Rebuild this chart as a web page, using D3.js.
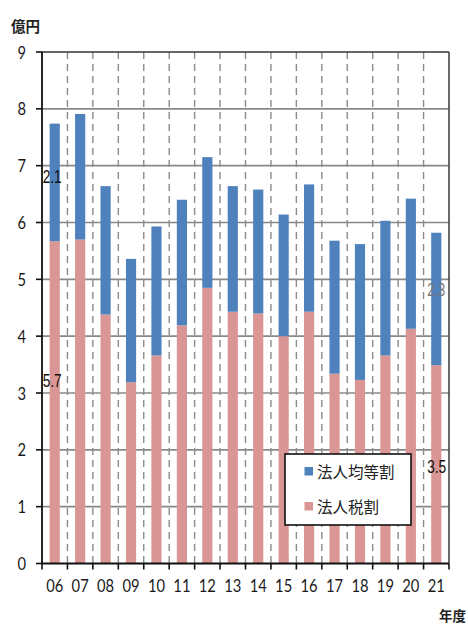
<!DOCTYPE html>
<html><head><meta charset="utf-8">
<script src="https://cdn.jsdelivr.net/npm/d3@7"></script>
<style>
html,body{margin:0;padding:0;background:#fff;}
svg{display:block;}
</style></head>
<body>
<script>
// ---- data ----
const years = ["06","07","08","09","10","11","12","13","14","15","16","17","18","19","20","21"];
const houjinzeiwari = [5.67,5.70,4.38,3.19,3.66,4.19,4.85,4.43,4.40,4.00,4.43,3.34,3.23,3.66,4.13,3.49]; // 法人税割
const kintouwari   = [2.07,2.21,2.26,2.17,2.27,2.21,2.30,2.21,2.18,2.14,2.24,2.34,2.39,2.37,2.29,2.33]; // 法人均等割
const yTicks = [0,1,2,3,4,5,6,7,8,9];
const seriesNames = ["法人均等割","法人税割"];
const seriesColors = ["#4F81BD","#D99694"];

// ---- layout ----
const W = 468, H = 625;
const L = 42, R = 449, T = 52, B = 563.5;

const svg = d3.select("body").append("svg").attr("width", W).attr("height", H);

const x = d3.scaleBand().domain(years).range([L, R]).paddingInner(0.6).paddingOuter(0.3);
const y = d3.scaleLinear().domain([0, 9]).range([B, T]);
const step = x.step();
const boundary = i => L + i * step;

// horizontal gridlines
svg.append("g").selectAll("line").data(yTicks.filter(d => d > 0 && d < 9)).join("line")
  .attr("x1", L).attr("x2", R).attr("y1", d => y(d)).attr("y2", d => y(d))
  .attr("stroke", "#888").attr("stroke-width", 1.7);

// dashed vertical lines
svg.append("g").selectAll("line").data(d3.range(1, years.length)).join("line")
  .attr("x1", d => boundary(d)).attr("x2", d => boundary(d)).attr("y1", T).attr("y2", B)
  .attr("stroke", "#8c8c8c").attr("stroke-width", 1.4).attr("stroke-dasharray", "7,5");

// stacked bars
const rows = years.map((yr, i) => ({ yr, a: houjinzeiwari[i], b: kintouwari[i] }));
const stack = d3.stack().keys(["a", "b"])(rows);
const colorByKey = { a: seriesColors[1], b: seriesColors[0] };
svg.append("g").selectAll("g").data(stack).join("g")
  .attr("fill", s => colorByKey[s.key])
  .selectAll("rect").data(s => s).join("rect")
  .attr("x", d => x(d.data.yr)).attr("width", x.bandwidth())
  .attr("y", d => y(d[1])).attr("height", d => y(d[0]) - y(d[1]));

// frame: top and right dark, axis lines
svg.append("line").attr("x1", L).attr("x2", R).attr("y1", T).attr("y2", T).attr("stroke", "#333").attr("stroke-width", 1.6);
svg.append("line").attr("x1", R).attr("x2", R).attr("y1", T).attr("y2", B).attr("stroke", "#444").attr("stroke-width", 1.6);
svg.append("line").attr("x1", L).attr("x2", L).attr("y1", T).attr("y2", B + 0.5).attr("stroke", "#111").attr("stroke-width", 1.8);
svg.append("line").attr("x1", L).attr("x2", R).attr("y1", B).attr("y2", B).attr("stroke", "#111").attr("stroke-width", 1.8);

// y ticks
svg.append("g").selectAll("line").data(yTicks).join("line")
  .attr("x1", L - 6).attr("x2", L).attr("y1", d => y(d)).attr("y2", d => y(d))
  .attr("stroke", "#111").attr("stroke-width", 1.6);
svg.append("g").selectAll("text").data(yTicks).join("text")
  .attr("transform", d => `translate(${L - 16},${y(d) + 6.5}) scale(0.82,1)`)
  .attr("text-anchor", "end").attr("font-family", "Lato, 'Noto Sans', sans-serif")
  .attr("font-size", 18).attr("fill", "#1a1a1a").text(d => d);

// x ticks at boundaries
svg.append("g").selectAll("line").data(d3.range(0, years.length + 1)).join("line")
  .attr("x1", d => boundary(d)).attr("x2", d => boundary(d)).attr("y1", B).attr("y2", B + 6)
  .attr("stroke", "#111").attr("stroke-width", 1.6);
svg.append("g").selectAll("text").data(years).join("text")
  .attr("transform", d => `translate(${x(d) + x.bandwidth() / 2},${B + 28}) scale(0.82,1)`)
  .attr("text-anchor", "middle").attr("font-family", "Lato, 'Noto Sans', sans-serif")
  .attr("font-size", 18).attr("fill", "#1a1a1a").text(d => d);

// axis titles
svg.append("text").attr("x", 11).attr("y", 32).attr("font-family", "'Noto Sans CJK JP', sans-serif")
  .attr("font-size", 14.5).attr("font-weight", "bold").attr("fill", "#222").text("億円");
svg.append("text").attr("x", 466).attr("y", 621).attr("text-anchor", "end")
  .attr("font-family", "'Noto Sans CJK JP', sans-serif")
  .attr("font-size", 13.5).attr("font-weight", "bold").attr("fill", "#222").text("年度");

// data labels
const i06 = 0, i21 = years.length - 1;
const lbl = (xx, yy, txt, col, fs) => svg.append("text")
  .attr("transform", `translate(${xx},${yy}) scale(0.72,1)`)
  .attr("font-family", "'Liberation Sans', Arial, sans-serif").attr("font-size", fs)
  .attr("fill", col).text(txt);
lbl(x(years[i06]) - 7, y(6.7), kintouwari[i06].toFixed(1), "#111", 19);
lbl(x(years[i06]) - 7, y(3.0) - 6, houjinzeiwari[i06].toFixed(1), "#111", 19);
lbl(x(years[i21]) - 4, y(4.7), kintouwari[i21].toFixed(1), "#777", 18);
lbl(x(years[i21]) - 4, y(1.6), houjinzeiwari[i21].toFixed(1), "#111", 19);

// legend
const lg = svg.append("g");
lg.append("rect").attr("x", 285).attr("y", 454).attr("width", 126).attr("height", 71)
  .attr("fill", "#fff").attr("stroke", "#111").attr("stroke-width", 1.6);
seriesNames.forEach((n, i) => {
  const cy = 471.5 + i * 35;
  lg.append("rect").attr("x", 304.5).attr("y", cy - 4.5).attr("width", 8.5).attr("height", 8.5).attr("fill", seriesColors[i]);
  lg.append("text").attr("x", 317).attr("y", cy + 6).attr("font-family", "'Noto Sans CJK JP', sans-serif")
    .attr("font-size", 15.5).attr("fill", "#222").text(n);
});
</script>
</body></html>
